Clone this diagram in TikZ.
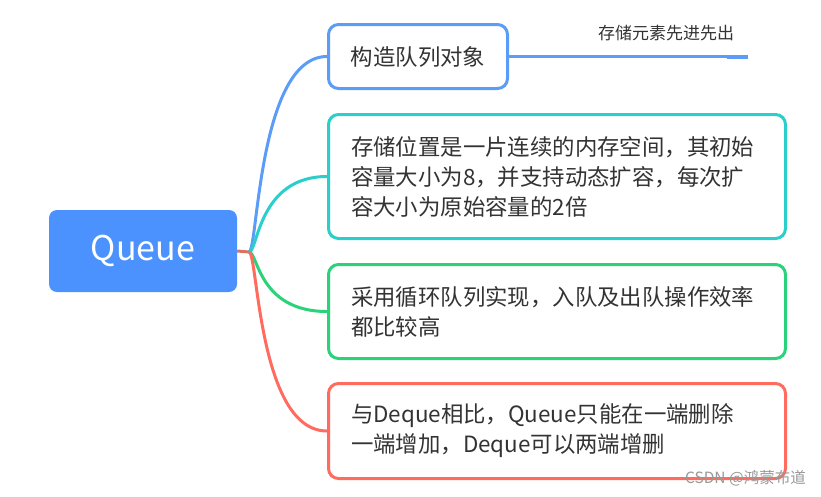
\documentclass[tikz,border=0pt]{standalone}
\usepackage{fontspec}
\setmainfont{Noto Sans CJK SC}
\usetikzlibrary{calc}
\definecolor{qfill}{HTML}{4B92FF}
\definecolor{cblue}{HTML}{5A9CF8}
\definecolor{cteal}{HTML}{2ACFCB}
\definecolor{cgreen}{HTML}{2AD27A}
\definecolor{cred}{HTML}{FF6B5F}
\definecolor{cstub}{HTML}{D9735F}
\definecolor{ctext}{HTML}{333333}
\tikzset{
  topic/.style={rounded corners=10pt, line width=3pt, fill=white, text=ctext,
    font=\fontsize{22.4}{30}\selectfont, inner sep=0pt},
  bigtopic/.style={topic, minimum width=457pt, text width=412pt, align=left},
  branch/.style={line width=3pt}
}
\begin{document}
\begin{tikzpicture}[x=1pt,y=-1pt]
\useasboundingbox (0,0) rectangle (821,496);
% root
\node[fill=qfill, rounded corners=8pt, minimum width=188pt, minimum height=82pt,
  inner sep=0pt, text=white, font=\fontsize{34}{40}\selectfont] (root) at (143,251) {\raisebox{-1pt}{Queue}};
% topics
\node[topic, draw=cblue, minimum width=179pt, minimum height=64pt, align=center] (t1) at (418,56.5) {构造队列对象};
\node[bigtopic, draw=cteal, minimum height=124pt] (t2) at (557,176.5)
  {存储位置是一片连续的内存空间，其初始\\容量大小为8，并支持动态扩容，每次扩\\容大小为原始容量的2倍};
\node[bigtopic, draw=cgreen, minimum height=94pt] (t3) at (557,311.5)
  {采用循环队列实现，入队及出队操作效率\\都比较高};
\node[bigtopic, draw=cred, minimum height=95pt] (t4) at (557,431)
  {与Deque相比，Queue只能在一端删除\\一端增加，Deque可以两端增删};
% branch point
\coordinate (b) at (249,252);
\draw[branch, cstub] (root.east) -- (b);
\draw[branch, cblue] (b) .. controls +(9,0) and +(-69,0) .. (t1.west);
\draw[branch, cteal] (b) .. controls +(9,0) and +(-69,0) .. (t2.west);
\draw[branch, cgreen] (b) .. controls +(9,0) and +(-69,0) .. (t3.west);
\draw[branch, cred] (b) .. controls +(9,0) and +(-69,0) .. (t4.west);
% note line
\coordinate (lend) at (748,56.5);
\coordinate (lthick) at (727,56.5);
\draw[cblue, line width=2.5pt] (t1.east) -- (lend);
\draw[cblue, line width=4pt] (lthick) -- (lend);
\node[text=ctext, font=\fontsize{17}{20}\selectfont, inner sep=0pt] (note) at (666,33) {存储元素先进先出};
% watermark
\node[text=black!40, font=\fontsize{15.5}{18}\selectfont, inner sep=0pt, anchor=east] (wm) at (806,478) {CSDN @鸿蒙布道};
\end{tikzpicture}
\end{document}
